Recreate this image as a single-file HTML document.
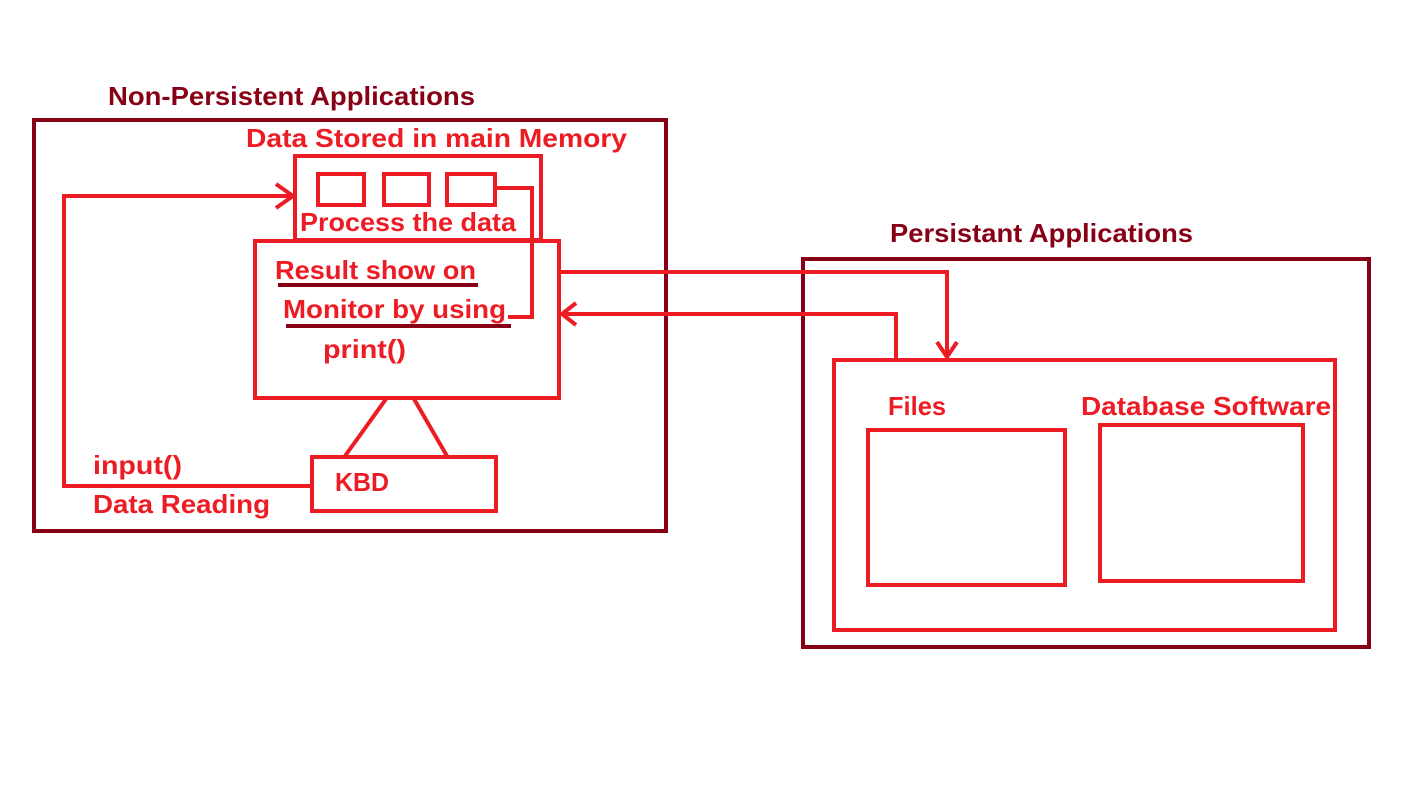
<!DOCTYPE html>
<html><head><meta charset="utf-8"><style>
html,body{margin:0;padding:0;background:#fff;}
svg{display:block}
text{font-family:"Liberation Sans",sans-serif;font-weight:bold;font-size:26px;}
</style></head><body>
<svg width="1426" height="790" viewBox="0 0 1426 790" xmlns="http://www.w3.org/2000/svg">
<g fill="none" stroke-width="4">
<rect x="34" y="120" width="632" height="411" stroke="#880015"/>
<rect x="803" y="259" width="566" height="388" stroke="#880015"/>
<g stroke="#ed1c24">
<rect x="295" y="156" width="246" height="84"/>
<rect x="318" y="174" width="46" height="31"/>
<rect x="384" y="174" width="45" height="31"/>
<rect x="447" y="174" width="48" height="31"/>
<polyline points="495,188 532,188 532,317 508,317"/>
<rect x="255" y="241" width="304" height="157"/>
<rect x="312" y="457" width="184" height="54"/>
<line x1="386" y1="399" x2="345" y2="456"/>
<line x1="414" y1="399" x2="447" y2="456"/>
<polyline points="311,486 64,486 64,196 293,196"/>
<polyline points="276,184 293,196 276,208"/>
<polyline points="560,272 947,272 947,356"/>
<polyline points="937,342 947,357 957,342"/>
<polyline points="896,359 896,314 562,314"/>
<polyline points="576,303 562,314 576,325"/>
<rect x="834" y="360" width="501" height="270"/>
<rect x="868" y="430" width="197" height="155"/>
<rect x="1100" y="425" width="203" height="156"/>
</g>
<line x1="278" y1="285" x2="478" y2="285" stroke="#880015"/>
<line x1="286" y1="326" x2="511" y2="326" stroke="#880015"/>
</g>
<text x="108" y="105" fill="#880015" textLength="367" lengthAdjust="spacingAndGlyphs">Non-Persistent Applications</text>
<text x="890" y="242" fill="#880015" textLength="303" lengthAdjust="spacingAndGlyphs">Persistant Applications</text>
<g fill="#ed1c24">
<text x="246" y="147" textLength="381" lengthAdjust="spacingAndGlyphs">Data Stored in main Memory</text>
<text x="300" y="231" textLength="216" lengthAdjust="spacingAndGlyphs">Process the data</text>
<text x="275" y="279" textLength="201" lengthAdjust="spacingAndGlyphs">Result show on</text>
<text x="283" y="318" textLength="223" lengthAdjust="spacingAndGlyphs">Monitor by using</text>
<text x="323" y="358" textLength="83" lengthAdjust="spacingAndGlyphs">print()</text>
<text x="93" y="474" textLength="89" lengthAdjust="spacingAndGlyphs">input()</text>
<text x="93" y="513" textLength="177" lengthAdjust="spacingAndGlyphs">Data Reading</text>
<text x="335" y="491" textLength="54" lengthAdjust="spacingAndGlyphs">KBD</text>
<text x="888" y="415" textLength="58" lengthAdjust="spacingAndGlyphs">Files</text>
<text x="1081" y="415" textLength="250" lengthAdjust="spacingAndGlyphs">Database Software</text>
</g>
</svg>
</body></html>
